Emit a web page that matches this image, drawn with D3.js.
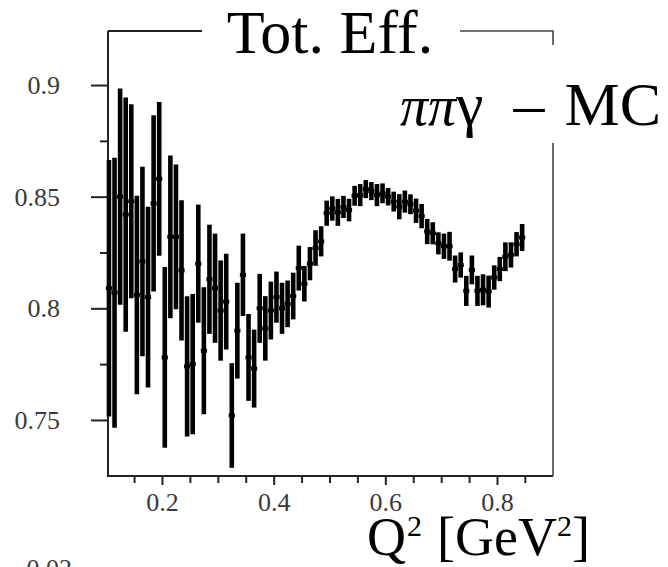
<!DOCTYPE html>
<html>
<head>
<meta charset="utf-8">
<script src="https://cdn.jsdelivr.net/npm/d3@7"></script>
<style>
  body { margin: 0; background: #fff; }
  svg { display: block; }
</style>
</head>
<body>
<div id="chart"></div>
<script>
// Bin centres in Q^2 [GeV^2]
const q2 = [
  0.105, 0.115, 0.125, 0.135, 0.145, 0.155, 0.165, 0.175, 0.185, 0.195,
  0.205, 0.215, 0.225, 0.235, 0.245, 0.255, 0.265, 0.275, 0.285, 0.295,
  0.305, 0.315, 0.325, 0.335, 0.345, 0.355, 0.365, 0.375, 0.385, 0.395,
  0.405, 0.415, 0.425, 0.435, 0.445, 0.455, 0.465, 0.475, 0.485, 0.495,
  0.505, 0.515, 0.525, 0.535, 0.545, 0.555, 0.565, 0.575, 0.585, 0.595,
  0.605, 0.615, 0.625, 0.635, 0.645, 0.655, 0.665, 0.675, 0.685, 0.695,
  0.705, 0.715, 0.725, 0.735, 0.745, 0.755, 0.765, 0.775, 0.785, 0.795,
  0.805, 0.815, 0.825, 0.835, 0.845
];

// Total efficiency per bin
const eff = [
  0.809, 0.807, 0.850, 0.842, 0.848, 0.806, 0.821, 0.805, 0.847, 0.858,
  0.778, 0.832, 0.832, 0.817, 0.774, 0.775, 0.820, 0.781, 0.813, 0.809,
  0.799, 0.803, 0.752, 0.790, 0.815, 0.778, 0.773, 0.800, 0.791, 0.799,
  0.805, 0.800, 0.802, 0.8055, 0.818, 0.811, 0.820, 0.827, 0.830, 0.8426,
  0.8447, 0.843, 0.8454, 0.844, 0.8504, 0.8507, 0.8534, 0.8525, 0.8507, 0.8515,
  0.850, 0.8478, 0.8455, 0.8478, 0.8466, 0.8437, 0.8413, 0.8344, 0.8336, 0.8291,
  0.8278, 0.8278, 0.8176, 0.8194, 0.8078, 0.8172, 0.8078, 0.8083, 0.8075, 0.8138,
  0.8176, 0.8231, 0.8239, 0.8287, 0.8317
];

// Statistical error per bin
const err = [
  0.057, 0.060, 0.048, 0.052, 0.043, 0.044, 0.042, 0.040, 0.039, 0.034,
  0.040, 0.036, 0.032, 0.031, 0.031, 0.031, 0.026, 0.028, 0.024, 0.024,
  0.022, 0.021, 0.023, 0.021, 0.018, 0.019, 0.017, 0.015, 0.014, 0.0125,
  0.011, 0.011, 0.010, 0.010, 0.0096, 0.0075, 0.007, 0.0075, 0.0063, 0.0052,
  0.005, 0.0056, 0.0045, 0.0046, 0.004, 0.0045, 0.0036, 0.0036, 0.0045, 0.004,
  0.0035, 0.004, 0.0052, 0.0045, 0.004, 0.005, 0.005, 0.0052, 0.0045, 0.0045,
  0.0052, 0.006, 0.0056, 0.0052, 0.0063, 0.006, 0.0063, 0.0065, 0.0067, 0.005,
  0.005, 0.006, 0.0052, 0.005, 0.0056
];

const binHalf = 0.0055;

const yMajor = [0.75, 0.8, 0.85, 0.9];
const yMinor = [0.775, 0.825, 0.875];
const xMajor = [0.2, 0.4, 0.6, 0.8];
const xMinor = [0.15, 0.25, 0.3, 0.35, 0.45, 0.5, 0.55, 0.65, 0.7, 0.75, 0.85];

const W = 668, H = 567;
const margin = { top: 31, right: 115, bottom: 91, left: 108 };
const serif = "'Liberation Serif', 'Times New Roman', Times, serif";

const svg = d3.select("#chart").append("svg")
  .attr("width", W)
  .attr("height", H)
  .attr("font-family", serif);

const x = d3.scaleLinear().domain([0.1033, 0.9003]).range([margin.left, W - margin.right]);
const y = d3.scaleLinear().domain([0.7249, 0.9242]).range([H - margin.bottom, margin.top]);

const x0 = x.range()[0], x1 = x.range()[1];
const yb = y.range()[0], yt = y.range()[1];

// Y axis: major ticks with labels, minor ticks without
const gy = svg.append("g").attr("transform", "translate(" + x0 + ",0)");
gy.call(d3.axisLeft(y).tickValues(yMajor).tickSize(17).tickPadding(31).tickFormat(d3.format("")));
gy.append("g").call(d3.axisLeft(y).tickValues(yMinor).tickSize(8).tickFormat(""));
gy.selectAll(".domain").remove();

// X axis
const gx = svg.append("g").attr("transform", "translate(0," + yb + ")");
gx.call(d3.axisBottom(x).tickValues(xMajor).tickSize(9).tickPadding(8).tickFormat(d3.format("")));
gx.append("g").call(d3.axisBottom(x).tickValues(xMinor).tickSize(7).tickFormat(""));
gx.selectAll(".domain").remove();

svg.selectAll("g").attr("font-family", serif);
svg.selectAll(".tick line").attr("stroke", "#222").attr("stroke-width", 2);
svg.selectAll(".tick text")
  .attr("font-family", serif)
  .attr("font-size", 26)
  .attr("fill", "#3a3a3a");

// Frame (gaps left for the title and the MC label)
const frame = svg.append("g").attr("stroke", "#222").attr("stroke-width", 2).attr("fill", "none");
frame.append("path").attr("d", "M" + x0 + "," + yt + "V" + yb + "H" + x1);
frame.append("path").attr("d", "M" + x0 + "," + yt + "H" + 202);
frame.append("path").attr("d", "M460," + yt + "H" + x1 + "V45").attr("stroke", "#444").attr("stroke-width", 1.6);
frame.append("path").attr("d", "M" + x1 + ",143V" + yb).attr("stroke", "#444").attr("stroke-width", 1.6);

// Error bars
const pts = q2.map((q, i) => ({ q: q, v: eff[i], e: err[i] }));
const marks = svg.append("g").attr("stroke", "#000");

marks.selectAll("line.ebar")
  .data(pts)
  .enter().append("line")
  .attr("class", "ebar")
  .attr("x1", d => x(d.q))
  .attr("x2", d => x(d.q))
  .attr("y1", d => y(d.v + d.e) - 1)
  .attr("y2", d => y(d.v - d.e) + 1)
  .attr("stroke-width", 4.6);

marks.selectAll("line.xbar")
  .data(pts)
  .enter().append("line")
  .attr("class", "xbar")
  .attr("x1", d => x(d.q - binHalf))
  .attr("x2", d => x(d.q + binHalf))
  .attr("y1", d => y(d.v))
  .attr("y2", d => y(d.v))
  .attr("stroke-width", 4);

// Titles
svg.append("text")
  .attr("x", 330).attr("y", 53)
  .attr("text-anchor", "middle")
  .attr("font-size", 62)
  .text("Tot. Eff.");

const mc = svg.append("text")
  .attr("y", 125)
  .attr("font-size", 62);
mc.append("tspan").attr("x", 400).attr("font-style", "italic").attr("font-size", 56).text("ππ");
mc.append("tspan").text("γ");
mc.append("tspan").attr("x", 529).attr("text-anchor", "middle").text("–");
mc.append("tspan").attr("x", 661).attr("text-anchor", "end").text("MC");

const xl = svg.append("text")
  .attr("y", 555)
  .attr("font-size", 54);
xl.append("tspan").attr("x", 367).text("Q");
xl.append("tspan").attr("x", 407).attr("dy", -19).attr("font-size", 30).text("2");
xl.append("tspan").attr("x", 437).attr("dy", 19).text("[GeV");
xl.append("tspan").attr("dy", -19).attr("font-size", 30).text("2");
xl.append("tspan").attr("dy", 19).text("]");

// Top of the next panel's tick label, cut by the picture edge
svg.append("text")
  .attr("x", 72).attr("y", 577)
  .attr("text-anchor", "end")
  .attr("font-size", 26)
  .attr("fill", "#3a3a3a")
  .text("0.02");
</script>
</body>
</html>
